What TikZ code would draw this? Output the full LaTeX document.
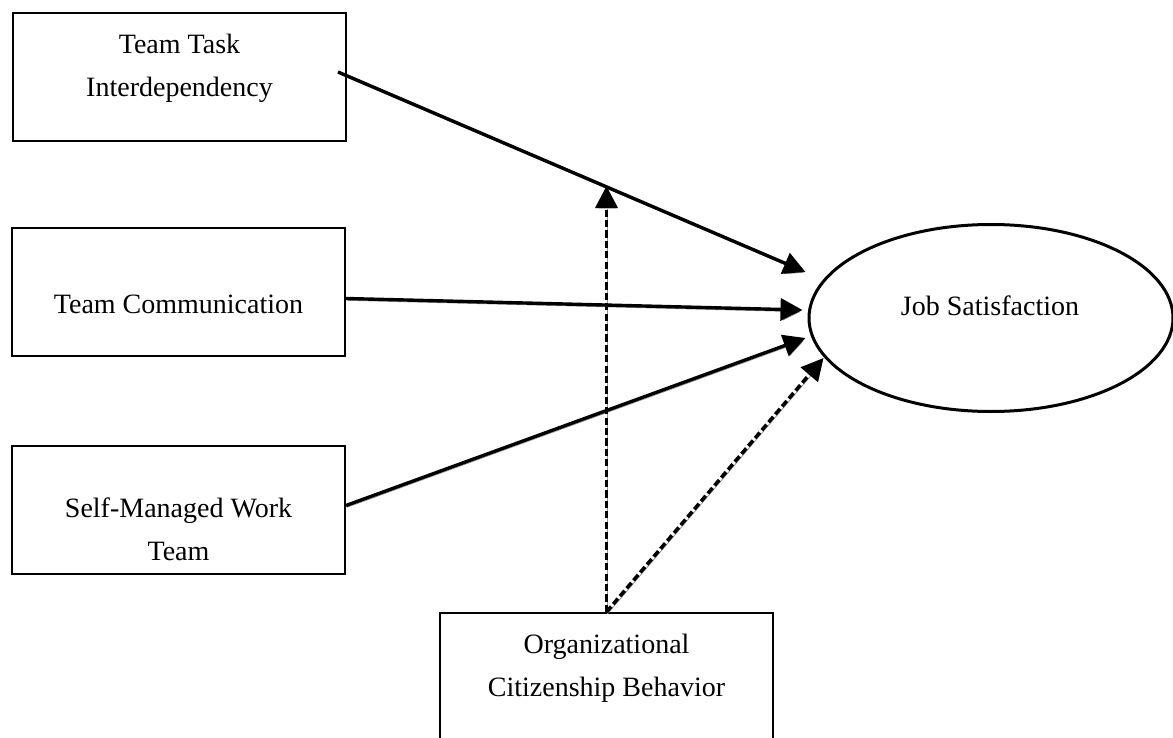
\documentclass[tikz,border=0pt]{standalone}
\usepackage{fontspec}
\setmainfont{Liberation Serif}
\usetikzlibrary{shapes.geometric,arrows.meta,calc}

\begin{document}
\begin{tikzpicture}[x=0.5pt, y=-0.5pt, >={Triangle[width=11pt,length=11pt]},
  box/.style={draw, line width=1pt, rectangle, minimum width=166.5pt, minimum height=64pt, inner sep=0pt},
  txt/.style={align=center, font=\fontsize{14}{21.5}\selectfont},
  shade/.style={preaction={draw=black!40, transform canvas={shift={(0.5pt,-0.9pt)}}}},
  link/.style={line width=1.7pt, shade},
  dashlink/.style={line width=1.8pt, dash pattern=on 3.6pt off 1.6pt, shade}]
  \useasboundingbox (0,0) rectangle (1173,738);

  \draw (179.5, 77.0)node[box](tti){};
  \draw (179.5, 68.0)node[txt](tti-t){Team Task\\Interdependency};
  \draw (178.5, 291.5)node[box](tc){};
  \draw (178.5, 304.0)node[txt](tc-t){Team Communication};
  \draw (178.5, 509.5)node[box](smw){};
  \draw (178.5, 529.0)node[txt](smw-t){Self-Managed Work\\Team};
  \draw (606.5, 677.0)node[box](ocb){};
  \draw (606.5, 668.0)node[txt](ocb-t){Organizational\\Citizenship Behavior};

  \draw (991.0, 318.0)node[ellipse, draw, line width=1.5pt, minimum width=182pt, minimum height=93.5pt, inner sep=0pt](js){};
  \draw (990.0, 306.0)node[txt](js-t){Job Satisfaction};

  \coordinate (p) at ([xshift=-4.5pt,yshift=2.5pt]tti.east);
  \coordinate (q) at ([xshift=-1pt,yshift=23pt]js.west);
  \coordinate (m) at ($(p)!0.57!(q)$);

  \path[->] (p) edge[link] (q);
  \path[->] ([yshift=-3.5pt]tc.east) edge[link] ([xshift=-2.5pt,yshift=4pt]js.west);
  \path[->] ([yshift=2pt]smw.east) edge[link] ([xshift=-1pt,yshift=-10pt]js.west);
  \path[->] (ocb.north) edge[dashlink] (ocb.north |- m);
  \path[->] (ocb.north) edge[dashlink] ([xshift=8pt,yshift=-20pt]js.west);
\end{tikzpicture}
\end{document}
